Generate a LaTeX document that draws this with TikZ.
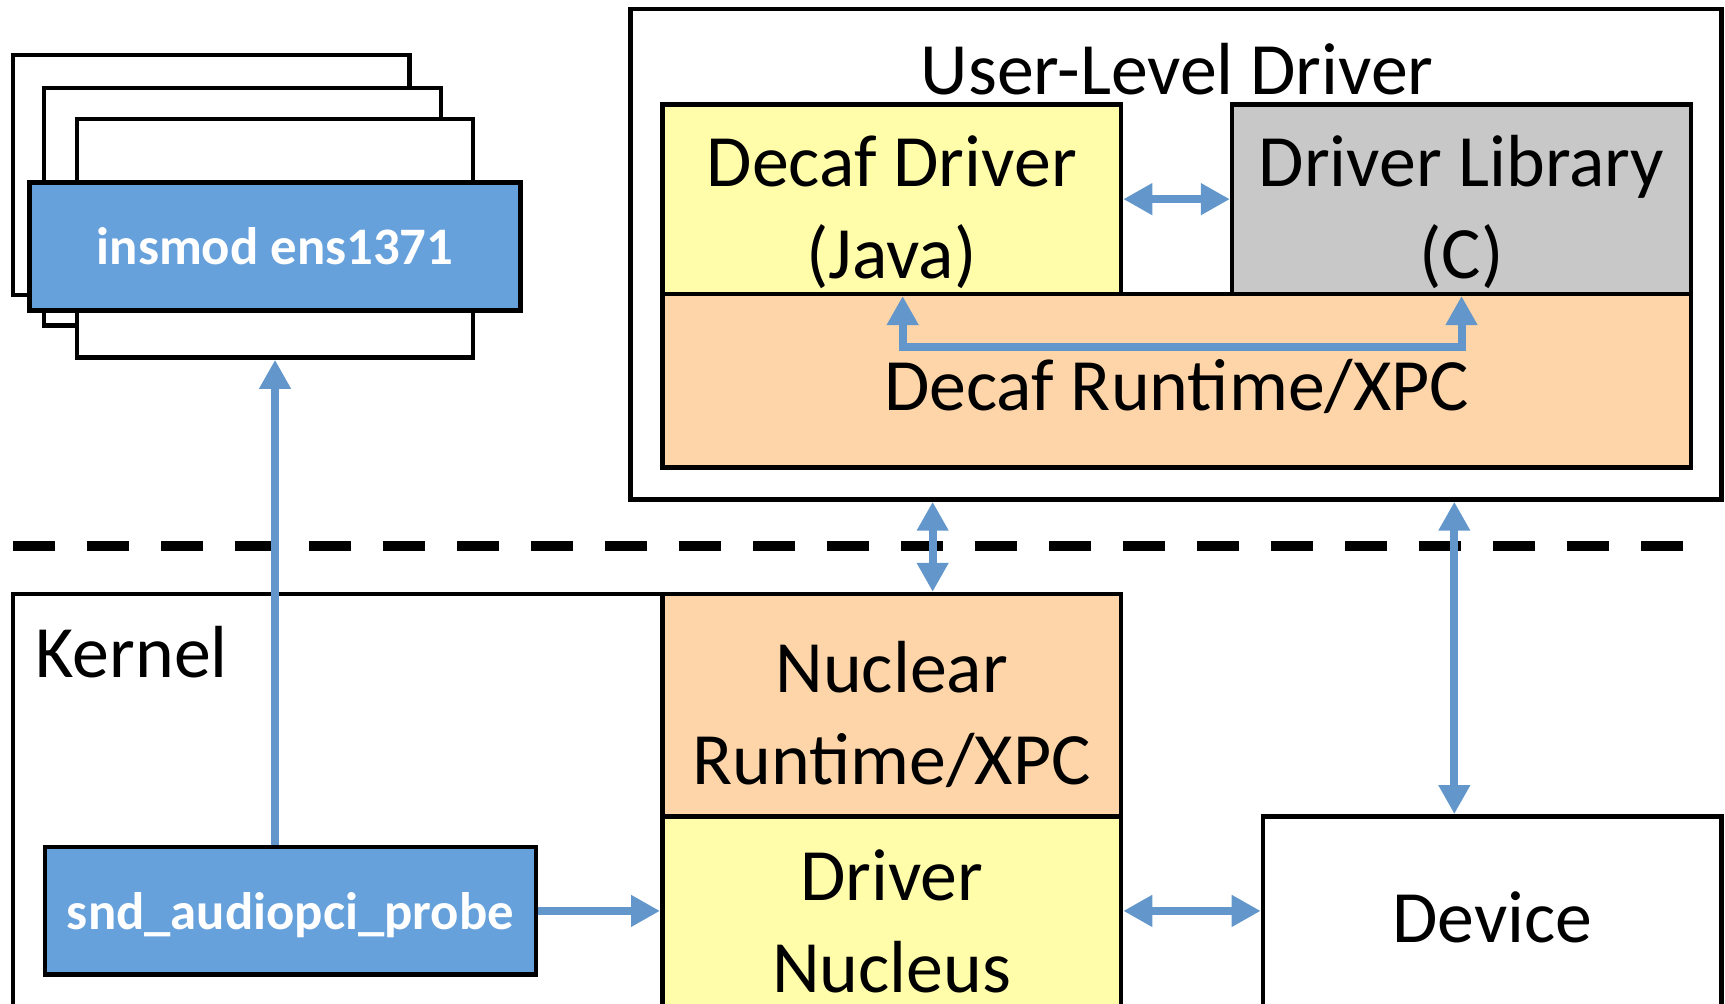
\documentclass[tikz,border=0pt]{standalone}
\usepackage{fontspec}
\setmainfont{Carlito}
\usetikzlibrary{arrows.meta}
\definecolor{boxblue}{RGB}{102,161,220}
\definecolor{arrblue}{RGB}{99,151,203}
\definecolor{decafyellow}{RGB}{255,253,170}
\definecolor{runorange}{RGB}{254,213,168}
\definecolor{libgray}{RGB}{200,200,200}
\def\blk[#1](#2)(#3,#4)(#5,#6)#7{\node[#1, minimum width={(#5-#3)*0.11mm}, minimum height={(#6-#4)*0.11mm}] (#2) at ({(#3+#5)/2}, {(#4+#6)/2}) {#7};}
\def\lift#1#2{\raisebox{-#1}[\height][\depth]{\begin{tabular}{@{}c@{}}#2\end{tabular}}}

\begin{document}
\begin{tikzpicture}[x=0.11mm, y=-0.11mm,
	box/.style={draw=black, line width=0.45mm, inner sep=0pt, font=\fontsize{21}{26}\selectfont},
	callbox/.style={box, fill=boxblue, text=white, font=\fontsize{15}{18}\selectfont\bfseries},
	txt/.style={inner sep=0pt, font=\fontsize{21}{26}\selectfont},
	arr/.style={draw=arrblue, line width=0.8mm, -{Triangle[width=3mm,length=2.9mm]}},
	arr2/.style={arr, {Triangle[width=3mm,length=2.9mm]}-{Triangle[width=3mm,length=2.9mm]}}]
			%%%%% FRAME %%%%%
			\path[use as bounding box] (0,0) rectangle (1568,912);
			\clip (0,0) rectangle (1568,912);
			
			\draw[line width=1mm, dash pattern=on 4.2mm off 3.2mm] (12,496) -- (1530,496);
			
			%%%%% MODULE STACK %%%%%
			\blk[box, fill=white](stack1)(12,50)(372,268){}
			\blk[box, fill=white](stack2)(40,80)(401,296){}
			\blk[box, fill=white](stack3)(70,108)(430,325){}
			\blk[callbox](insmod)(27,166)(473,282){\lift{1.6pt}{insmod ens1371}}
			
			%%%%% USER LEVEL %%%%%
			\blk[box](user)(573,8)(1565,454){}
			\node[txt, anchor=base] (usertxt) at (1070,86) {User-Level Driver};
			\blk[box, fill=decafyellow](decaf)(602,95)(1019,267){\lift{4.3pt}{Decaf Driver\\(Java)}}
			\blk[box, fill=libgray](library)(1120,95)(1537,267){\lift{4.3pt}{Driver Library\\(C)}}
			\blk[box, fill=runorange](decafrt)(602,267)(1537,425){\lift{3.4pt}{Decaf Runtime/XPC}}
			
			%%%%% KERNEL %%%%%
			\blk[box](kernel)(12,540)(1019,935){}
			\node[txt, anchor=base west] (kerneltxt) at (32,616) {Kernel};
			\blk[box, fill=runorange](nuclear)(602,540)(1019,742){\lift{4.3pt}{Nuclear\\Runtime/XPC}}
			\blk[box, fill=decafyellow](nucleus)(602,742)(1019,935){\lift{1.6pt}{Driver\\Nucleus}}
			\blk[box, fill=white](device)(1148,742)(1565,935){\lift{0.5pt}{Device}}
			\blk[callbox](probe)(41,770)(487,886){\lift{1.6pt}{snd\_audiopci\_probe}}
			
			%%%%% ARROWS %%%%%
			\draw[arr] (probe.north -| stack3.south) -- (stack3.south);
			\draw[arr] (probe.east) -- (probe.east -| nucleus.west);
			\draw[arr2] (probe.east -| nucleus.east) -- (probe.east -| device.west);
			\draw[arr2] (decaf.east) -- (library.west);
			\draw[arr2] ([xshift=1.1mm]decaf.south) -- ++(0,46) -| (library.south);
			\draw[arr2] ([xshift=4.1mm]nuclear.north |- user.south) -- ([xshift=4.1mm]nuclear.north);
			\draw[arr2] ([xshift=-3.8mm]device.north |- user.south) -- ([xshift=-3.8mm]device.north);
			
		\end{tikzpicture}
\end{document}
